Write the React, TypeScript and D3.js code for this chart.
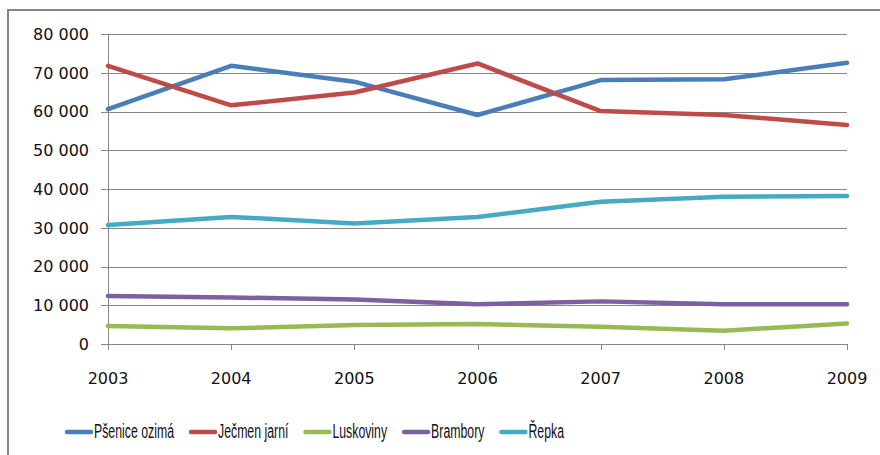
import React, { useEffect, useRef } from 'react';
import * as d3 from 'd3';

const years = ['2003', '2004', '2005', '2006', '2007', '2008', '2009'];
const seriesNames = ['Pšenice ozimá', 'Ječmen jarní', 'Luskoviny', 'Brambory', 'Řepka'];
const seriesColors = ['#4a7ebb', '#be4b48', '#98b954', '#7d60a0', '#46aac5'];

const psenice = [60600, 71800, 67700, 59100, 68100, 68300, 72600];
const jecmen = [71800, 61600, 64900, 72400, 60100, 59100, 56500];
const luskoviny = [4650, 4050, 4900, 5150, 4450, 3450, 5300];
const brambory = [12400, 12000, 11500, 10250, 11000, 10250, 10250];
const repka = [30700, 32800, 31100, 32800, 36700, 38000, 38200];

const yTicks = [0, 10000, 20000, 30000, 40000, 50000, 60000, 70000, 80000];

const W = 880;
const H = 455;

const fmt = (v: number) => d3.format(',')(v).replace(/,/g, ' ');

export default function App() {
  const svgRef = useRef<SVGSVGElement>(null);

  useEffect(() => {
    if (!svgRef.current) return;
    const svg = d3.select(svgRef.current);
    svg.selectAll('*').remove();

    const allSeries = [psenice, jecmen, luskoviny, brambory, repka];
    const margin = { top: 34, right: 33, bottom: 111, left: 108 };

    const x = d3.scalePoint<string>().domain(years).range([margin.left, W - margin.right]);
    const y = d3.scaleLinear().domain([0, 80000]).range([H - margin.bottom, margin.top]);

    // outer chart frame
    svg.append('rect')
      .attr('x', 8).attr('y', 10)
      .attr('width', 900).attr('height', 500)
      .attr('fill', 'white')
      .attr('stroke', '#868686')
      .attr('stroke-width', 2);

    // gridlines
    svg.append('g')
      .selectAll('line')
      .data(yTicks)
      .enter()
      .append('line')
      .attr('x1', margin.left - 7)
      .attr('x2', W - margin.right)
      .attr('y1', d => Math.round(y(d)) + 0.5)
      .attr('y2', d => Math.round(y(d)) + 0.5)
      .attr('stroke', '#868686')
      .attr('stroke-width', 1);

    // y axis line
    svg.append('line')
      .attr('x1', margin.left + 0.5).attr('x2', margin.left + 0.5)
      .attr('y1', margin.top).attr('y2', y(0))
      .attr('stroke', '#868686');

    // x ticks
    svg.append('g')
      .selectAll('line')
      .data(years)
      .enter()
      .append('line')
      .attr('x1', d => Math.round(x(d)!) + 0.5)
      .attr('x2', d => Math.round(x(d)!) + 0.5)
      .attr('y1', y(0))
      .attr('y2', y(0) + 6)
      .attr('stroke', '#868686');

    // y labels
    svg.append('g')
      .selectAll('text')
      .data(yTicks)
      .enter()
      .append('text')
      .attr('x', 89)
      .attr('y', d => y(d))
      .attr('dy', '0.36em')
      .attr('text-anchor', 'end')
      .attr('font-family', 'DejaVu Sans, sans-serif')
      .attr('font-size', 16)
      .attr('fill', '#111')
      .text(d => fmt(d));

    // x labels
    svg.append('g')
      .selectAll('text')
      .data(years)
      .enter()
      .append('text')
      .attr('x', d => x(d)!)
      .attr('y', 384)
      .attr('text-anchor', 'middle')
      .attr('font-family', 'DejaVu Sans, sans-serif')
      .attr('font-size', 16)
      .attr('fill', '#111')
      .text(d => d);

    // lines
    const line = d3.line<number>()
      .x((_, i) => x(years[i])!)
      .y(d => y(d));

    svg.append('g')
      .selectAll('path')
      .data(allSeries)
      .enter()
      .append('path')
      .attr('d', d => line(d))
      .attr('fill', 'none')
      .attr('stroke', (_, i) => seriesColors[i])
      .attr('stroke-width', 4.5)
      .attr('stroke-linejoin', 'round')
      .attr('stroke-linecap', 'round');

    // legend (narrow text, squeezed to match the condensed look)
    const legendY = 431;
    let cx = 65;
    const lg = svg.append('g');
    seriesNames.forEach((name, i) => {
      lg.append('line')
        .attr('x1', cx + 2).attr('x2', cx + 26)
        .attr('y1', legendY + 1).attr('y2', legendY + 1)
        .attr('stroke', seriesColors[i])
        .attr('stroke-width', 4.5)
        .attr('stroke-linecap', 'round');
      const t = lg.append('text')
        .attr('x', cx + 29)
        .attr('y', legendY)
        .attr('dy', '0.36em')
        .attr('font-family', 'Liberation Sans, Arial, sans-serif')
        .attr('font-size', 20)
        .attr('fill', '#111')
        .text(name);
      const natural = (t.node() as SVGTextElement).getComputedTextLength();
      const w = natural * 0.615;
      t.attr('textLength', w).attr('lengthAdjust', 'spacingAndGlyphs');
      cx += 29 + w + 15;
    });
  }, []);

  return (
    <div style={{ position: 'fixed', left: 0, top: 0, width: W, height: H, background: 'white' }}>
      <svg ref={svgRef} width={W} height={H} style={{ display: 'block' }} />
    </div>
  );
}
